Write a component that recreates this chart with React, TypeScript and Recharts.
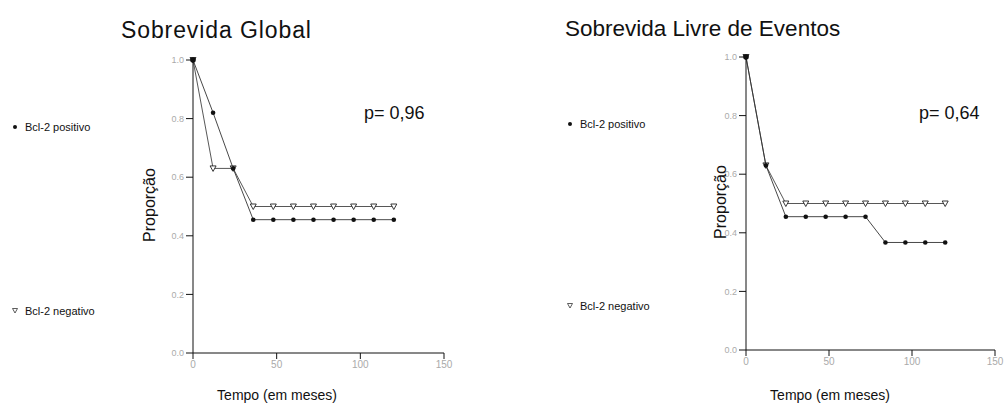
import React from "react";
import { LineChart, Line, XAxis, YAxis } from "recharts";

const timesMonths = [0, 12, 24, 36, 48, 60, 72, 84, 96, 108, 120];
const globalPositivo = [1.0, 0.82, 0.63, 0.455, 0.455, 0.455, 0.455, 0.455, 0.455, 0.455, 0.455];
const globalNegativo = [1.0, 0.63, 0.63, 0.5, 0.5, 0.5, 0.5, 0.5, 0.5, 0.5, 0.5];
const eventosPositivo = [1.0, 0.63, 0.455, 0.455, 0.455, 0.455, 0.455, 0.367, 0.367, 0.367, 0.367];
const eventosNegativo = [1.0, 0.63, 0.5, 0.5, 0.5, 0.5, 0.5, 0.5, 0.5, 0.5, 0.5];
const xTicks = [0, 50, 100, 150];
const yTicks = [0, 0.2, 0.4, 0.6, 0.8, 1.0];
const titles = ["Sobrevida Global", "Sobrevida Livre de Eventos"];
const pValues = ["p= 0,96", "p= 0,64"];
const seriesNames = ["Bcl-2 positivo", "Bcl-2 negativo"];

const FONT = "'Liberation Sans', Arial, sans-serif";

const FilledDot = (props: any) => {
  const { cx, cy, index } = props;
  if (cx == null || cy == null) return null;
  const r = index === 0 ? 2.8 : 2.3;
  return <circle key={`fd-${index}`} cx={cx} cy={cy} r={r} fill="#111" />;
};

const TriangleDot = (props: any) => {
  const { cx, cy, index } = props;
  if (cx == null || cy == null) return null;
  const s = 3;
  return (
    <path
      key={`td-${index}`}
      d={`M${cx - s},${cy - s + 0.5} L${cx + s},${cy - s + 0.5} L${cx},${cy + s} Z`}
      fill="#fff"
      stroke="#222"
      strokeWidth={0.9}
    />
  );
};

function KMChart(props: {
  pos: number[];
  neg: number[];
  width: number;
  margin: { top: number; right: number; bottom: number; left: number };
}) {
  const rows = timesMonths.map((t, i) => ({ t, pos: props.pos[i], neg: props.neg[i] }));
  return (
    <LineChart width={props.width} height={407} data={rows} margin={props.margin}>
      <XAxis
        dataKey="t"
        type="number"
        domain={[0, 150]}
        ticks={xTicks}
        interval={0}
        height={30}
        stroke="#111"
        tickSize={6}
        tick={{ fontSize: 10, fill: "#aaa", fontFamily: FONT }}
      />
      <YAxis
        type="number"
        domain={[0, 1]}
        ticks={yTicks}
        interval={0}
        width={30}
        stroke="#111"
        tickSize={7}
        tickFormatter={(v: number) => v.toFixed(1)}
        tick={{ fontSize: 9, fill: "#aaa", fontFamily: FONT }}
      />
      <Line
        dataKey="neg"
        type="linear"
        stroke="#444"
        strokeWidth={0.9}
        dot={<TriangleDot />}
        isAnimationActive={false}
      />
      <Line
        dataKey="pos"
        type="linear"
        stroke="#333"
        strokeWidth={0.9}
        dot={<FilledDot />}
        isAnimationActive={false}
      />
    </LineChart>
  );
}

const abs = (left: number, top: number, extra: React.CSSProperties = {}): React.CSSProperties => ({
  position: "absolute",
  left,
  top,
  whiteSpace: "nowrap",
  fontFamily: FONT,
  lineHeight: 1,
  color: "#111",
  ...extra,
});

function LegendItem(props: { x: number; y: number; kind: "dot" | "tri"; label: string }) {
  return (
    <div style={abs(props.x, props.y - 6, { fontSize: 11, display: "flex", alignItems: "center" })}>
      <svg width={12} height={12} style={{ marginRight: 2 }}>
        {props.kind === "dot" ? (
          <circle cx={4} cy={6} r={2} fill="#111" />
        ) : (
          <path d="M1.5,3.5 L6.5,3.5 L4,8 Z" fill="#fff" stroke="#333" strokeWidth={0.8} />
        )}
      </svg>
      <span>{props.label}</span>
    </div>
  );
}

export default function App() {
  return (
    <div style={{ position: "absolute", left: 0, top: 0, width: 1007, height: 407, background: "#fff", overflow: "hidden" }}>
      <div style={{ position: "absolute", left: 0, top: 0 }}>
        <KMChart
          pos={globalPositivo}
          neg={globalNegativo}
          width={500}
          margin={{ top: 60, right: 56, bottom: 24, left: 163 }}
        />
      </div>
      <div style={{ position: "absolute", left: 500, top: 0 }}>
        <KMChart
          pos={eventosPositivo}
          neg={eventosNegativo}
          width={507}
          margin={{ top: 57, right: 12, bottom: 27, left: 216 }}
        />
      </div>

      <div style={abs(121, 19, { fontSize: 23, letterSpacing: 0.9 })}>{titles[0]}</div>
      <div style={abs(565, 18, { fontSize: 22.5 })}>{titles[1]}</div>

      <div style={abs(364, 104, { fontSize: 18 })}>{pValues[0]}</div>
      <div style={abs(919, 104, { fontSize: 18 })}>{pValues[1]}</div>

      <LegendItem x={11} y={127} kind="dot" label={seriesNames[0]} />
      <LegendItem x={11} y={311} kind="tri" label={seriesNames[1]} />
      <LegendItem x={566} y={124} kind="dot" label={seriesNames[0]} />
      <LegendItem x={566} y={306} kind="tri" label={seriesNames[1]} />

      <div style={abs(150, 205, { fontSize: 16, transform: "translate(-50%, -50%) rotate(-90deg)" })}>Proporção</div>
      <div style={abs(721, 202, { fontSize: 16, transform: "translate(-50%, -50%) rotate(-90deg)" })}>Proporção</div>

      <div style={abs(277, 395, { fontSize: 14, transform: "translate(-50%, -50%)" })}>Tempo (em meses)</div>
      <div style={abs(830, 395, { fontSize: 14, transform: "translate(-50%, -50%)" })}>Tempo (em meses)</div>
    </div>
  );
}
